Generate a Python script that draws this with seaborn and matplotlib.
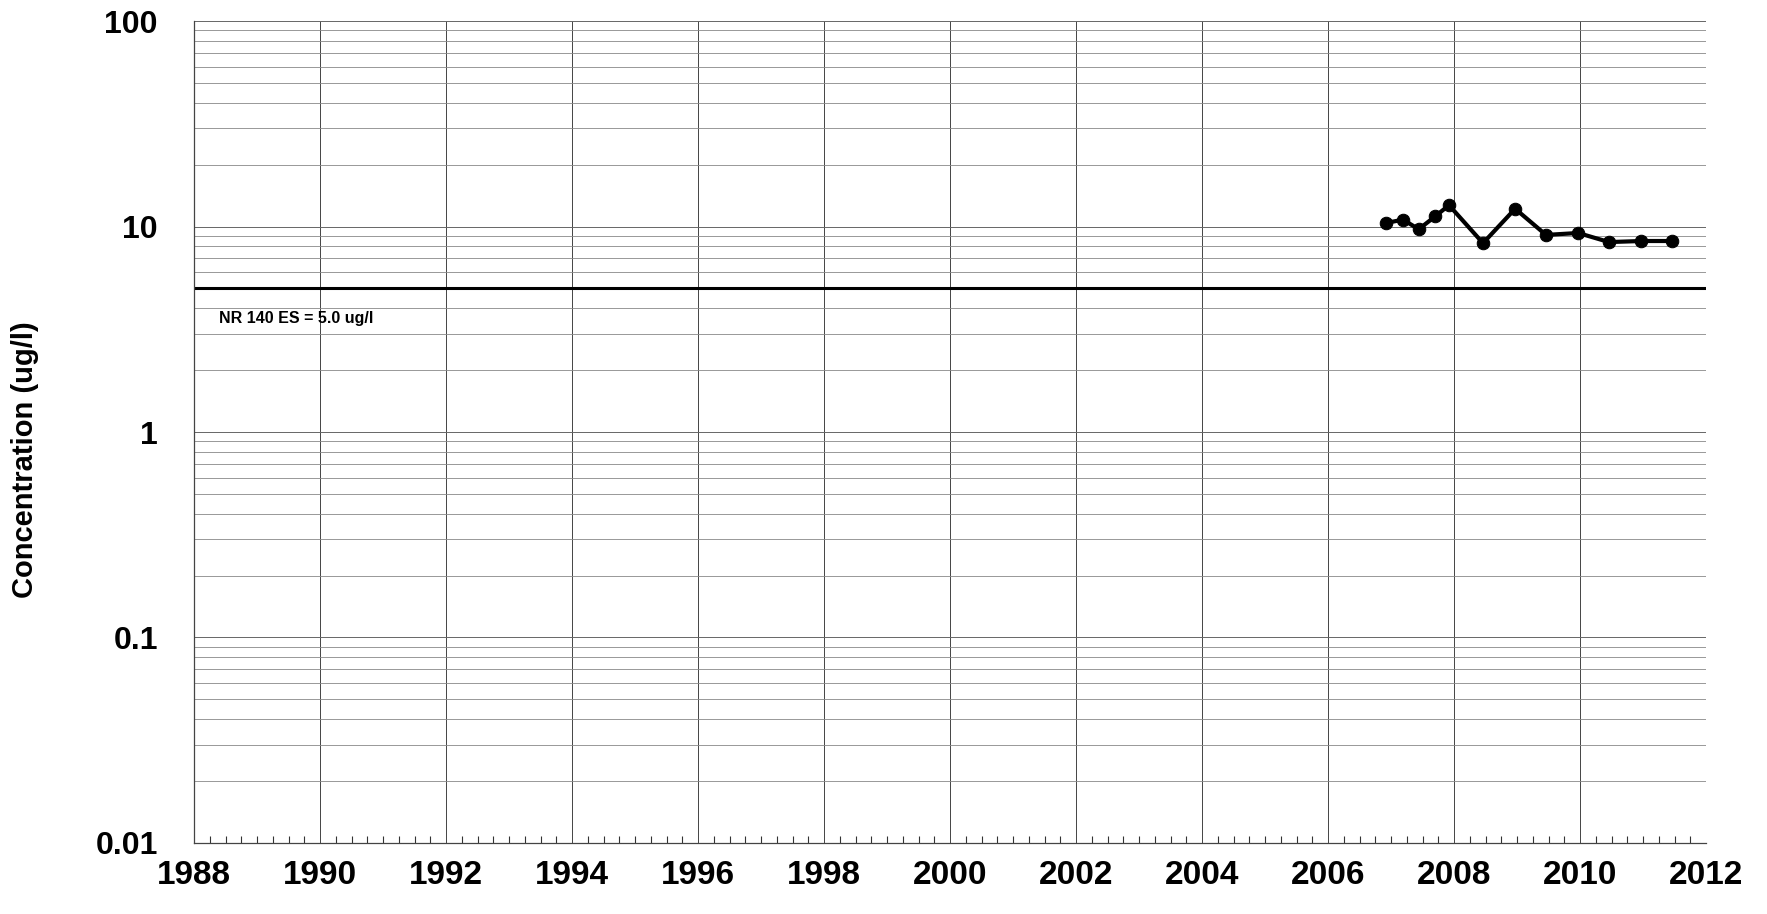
import numpy as np
import pandas as pd
import seaborn as sns
import matplotlib.pyplot as plt
from matplotlib.ticker import FixedLocator, MultipleLocator, FuncFormatter, LogLocator

# sample dates (decimal years) and concentrations (ug/l)
years = [2006.92, 2007.19, 2007.44, 2007.70, 2007.92, 2008.46,
         2008.97, 2009.46, 2009.97, 2010.46, 2010.97, 2011.46]
conc = [10.4, 10.8, 9.7, 11.2, 12.7, 8.3, 12.2, 9.1, 9.3, 8.4, 8.5, 8.5]

standard = 5.0
standard_label = 'NR 140 ES = 5.0 ug/l'
x_ticks = list(range(1988, 2013, 2))
y_ticks = [0.01, 0.1, 1, 10, 100]

df = pd.DataFrame({'year': years, 'conc': conc})

sns.set_style('white')
plt.rcParams['font.family'] = ['Liberation Sans', 'DejaVu Sans']
plt.rcParams['text.color'] = 'black'
plt.rcParams['axes.labelcolor'] = 'black'
plt.rcParams['xtick.color'] = 'black'
plt.rcParams['ytick.color'] = 'black'

fig, ax = plt.subplots(figsize=(17.67, 9.14), dpi=100)
fig.subplots_adjust(left=0.1098, right=0.9655, top=0.977, bottom=0.0777)

ax.set_yscale('log')
ax.set_xlim(1988, 2012)
ax.set_ylim(0.01, 100)

# grid lines (log minor lines + every 2 years)
ax.yaxis.set_major_locator(FixedLocator(y_ticks))
ax.yaxis.set_minor_locator(LogLocator(base=10, subs=np.arange(2, 10)))
ax.xaxis.set_major_locator(FixedLocator(x_ticks))
ax.xaxis.set_minor_locator(MultipleLocator(0.25))
ax.grid(True, which='major', axis='x', color='#444444', lw=0.7)
ax.grid(True, which='major', axis='y', color='#666666', lw=0.7)
ax.grid(True, which='minor', axis='y', color='#888888', lw=0.6)
ax.set_axisbelow(True)

# enforcement standard line
ax.axhline(standard, color='black', lw=2.2, zorder=2)
ax.text(1988.4, 3.55, standard_label, fontsize=11.5, fontweight='bold',
        ha='left', va='center')

sns.lineplot(data=df, x='year', y='conc', ax=ax, color='black', lw=3,
             marker='o', markersize=9, markeredgecolor='black', zorder=3)

fmt = FuncFormatter(lambda v, p: f'{v:g}')
ax.yaxis.set_major_formatter(fmt)
ax.yaxis.set_minor_formatter(FuncFormatter(lambda v, p: ''))
ax.tick_params(axis='x', which='major', labelsize=24, length=0, pad=12)
ax.tick_params(axis='y', which='major', labelsize=23, length=0, pad=26)
ax.tick_params(axis='x', which='minor', direction='in', length=5, width=0.8,
               colors='#333333', bottom=True)
ax.tick_params(axis='y', which='minor', length=0)
for lbl in ax.get_xticklabels() + ax.get_yticklabels():
    lbl.set_fontweight('bold')

ax.set_xlabel('')
ax.set_ylabel('Concentration (ug/l)', fontsize=21, fontweight='bold', va='center')
ax.yaxis.set_label_coords(-0.112, 0.467)

for side in ['top', 'right']:
    ax.spines[side].set_visible(False)
for side in ['left', 'bottom']:
    ax.spines[side].set_color('#444444')
    ax.spines[side].set_linewidth(0.9)

plt.savefig('out.png', dpi=100)
